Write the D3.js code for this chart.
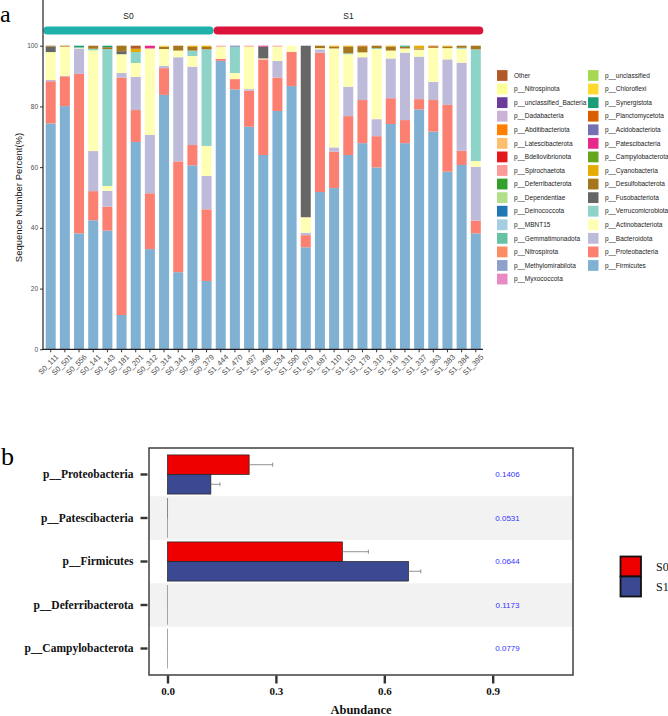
<!DOCTYPE html>
<html>
<head>
<meta charset="utf-8">
<script src="https://cdn.jsdelivr.net/npm/d3@7"></script>
<style>
  body { margin: 0; background: #fff; }
  svg { display: block; }
</style>
</head>
<body>
<svg id="chart" width="668" height="716"></svg>
<script>
// ---------- panel a data ----------
const samples = ["S0_111","S0_501","S0_556","S0_141","S0_143","S0_181","S0_201","S0_312","S0_314","S0_341","S0_369","S0_379",
  "S1_444","S1_470","S1_497","S1_498","S1_534","S1_590","S1_679","S1_687","S1_110","S1_153","S1_178","S1_310","S1_316",
  "S1_331","S1_337","S1_363","S1_383","S1_384","S1_395"]
const groups = ["S0", "S1"]
const groupColors = ["#20B2AA", "#DC143C"]

// legend order (top of stack first), as in the figure
const phyla = ["Other","p__Nitrospinota","p__unclassified_Bacteria","p__Dadabacteria","p__Abditibacteriota",
  "p__Latescibacterota","p__Bdellovibrionota","p__Spirochaetota","p__Deferribacterota","p__Dependentiae",
  "p__Deinococcota","p__MBNT15","p__Gemmatimonadota","p__Nitrospirota","p__Methylomirabilota","p__Myxococcota",
  "p__unclassified","p__Chloroflexi","p__Synergistota","p__Planctomycetota","p__Acidobacteriota","p__Patescibacteria",
  "p__Campylobacterota","p__Cyanobacteria","p__Desulfobacterota","p__Fusobacteriota","p__Verrucomicrobiota",
  "p__Actinobacteriota","p__Bacteroidota","p__Proteobacteria","p__Firmicutes"]
const phylumColors = ["#B15928","#FFFF99","#6A3D9A","#CAB2D6","#FF7F00","#FDBF6F","#E31A1C","#FB9A99","#33A02C","#B2DF8A",
  "#1F78B4","#A6CEE3","#66C2A5","#FC8D62","#8DA0CB","#E78AC3","#A6D854","#FFD92F","#1B9E77","#D95F02","#7570B3","#E7298A",
  "#66A61E","#E6AB02","#A6761D","#666666","#8DD3C7","#FFFFB3","#BEBADA","#FB8072","#80B1D3"]

// percent per sample (same order as samples)
const firmicutes        = [74.4,80.1,38.2,42.5,39.1,11.3,68.3,33.0,83.8,25.4,60.6,22.5,95.0,85.6,73.3,64.0,78.5,86.7,33.6,51.8,53.1,64.0,67.9,59.9,74.2,67.9,79.0,71.7,58.5,60.7,38.2]
const proteobacteria    = [13.9,9.8,52.5,9.6,7.9,78.2,10.5,18.4,8.8,36.5,6.7,23.6,0.7,3.4,11.9,31.5,11.0,11.3,4.0,45.9,12.0,12.8,14.2,10.3,8.5,7.6,3.4,10.4,22.0,4.7,4.2]
const bacteroidota      = [0.4,0.2,8.4,13.2,5.2,1.5,10.9,19.2,0.7,34.3,25.8,11.0,0,0,0.5,0,5.5,0,0.8,1.1,1.4,9.7,14.1,5.6,13.1,22.2,14.0,6.0,15.0,29.0,17.7]
const actinobacteriota  = [9.2,9.6,0.3,33.2,1.6,6.2,4.6,28.5,5.6,2.2,3.5,9.9,4.0,2.0,14.0,0.3,4.7,2.0,5.1,0.4,32.6,10.7,1.6,23.1,2.6,1.4,2.3,11.2,3.7,4.6,1.9]
const verrucomicrobiota = [0,0,0,0.5,45.1,0,3.6,0,0,0,1.8,31.8,0,8.7,0,0,0,0,0,0,0,0.3,0,0.3,0,0,0,0,0,0.3,36.8]
const fusobacteriota    = [1.8,0,0,0,0,1.0,0,0,0,0,0,0,0,0,0,3.9,0,0,56.5,0,0,0,0,0,0,0,0,0,0,0,0]
const desulfobacterota  = [0.3,0.3,0,1.0,0.6,1.8,0,0,0.8,1.6,1.2,0.8,0,0,0,0,0,0,0,0.8,0.6,2.2,1.9,0.8,1.3,0.6,0.4,0.4,0.5,0.7,1.2]
const cyanobacteria     = [0,0,0,0,0,0,1.1,0,0,0,0.4,0.4,0,0,0,0,0,0,0,0,0.3,0.3,0,0,0.3,0,0.9,0,0.3,0,0]
const patescibacteria   = [0,0,0,0,0,0,0,0.9,0,0,0,0,0,0,0,0.3,0,0,0,0,0,0,0,0,0,0,0,0,0,0,0]
const acidobacteriota   = [0,0,0,0,0,0,0,0,0,0,0,0,0,0.3,0,0,0,0,0,0,0,0,0,0,0,0,0,0,0,0,0]
const planctomycetota   = [0,0,0,0,0,0,0,0,0,0,0,0,0,0,0,0,0,0,0,0,0,0,0.3,0,0,0,0,0.3,0,0,0]
const synergistota      = [0,0,0.6,0,0.5,0,0,0,0,0,0,0,0,0,0,0,0,0,0,0,0,0,0,0,0,0.3,0,0,0,0,0]
const chloroflexi       = [0,0,0,0,0,0,0,0,0.3,0,0,0,0,0,0,0,0,0,0,0,0,0,0,0,0,0,0,0,0,0,0]
const spirochaetota     = [0,0,0,0,0,0,0,0,0,0,0,0,0.3,0,0.3,0,0.3,0,0,0,0,0,0,0,0,0,0,0,0,0,0]
const other             = [0,0,0,0,0,0,1.0,0,0,0,0,0,0,0,0,0,0,0,0,0,0,0,0,0,0,0,0,0,0,0,0]
const yTicks = [0, 20, 40, 60, 80, 100]

// ---------- panel b data ----------
const diffPhyla = ["p__Proteobacteria","p__Patescibacteria","p__Firmicutes","p__Deferribacterota","p__Campylobacterota"]
const s0Mean = [0.226, 0.0005, 0.484, 0.0003, 0.0003]
const s0Err  = [0.065, 0.0002, 0.072, 0.0001, 0.0001]
const s1Mean = [0.120, 0.0002, 0.667, 0.0001, 0.0001]
const s1Err  = [0.025, 0.0001, 0.034, 0.0001, 0.0001]
const pValues = ["0.1406","0.0531","0.0644","0.1173","0.0779"]
const abundanceTicks = [0, 0.3, 0.6, 0.9]
const diffGroupColors = ["#EE0000", "#3B4992"]

const svg = d3.select("#chart")
const sans = "Liberation Sans, Arial, sans-serif"
const serif = "Liberation Serif, Times New Roman, serif"

// ================= panel a =================
const seriesByPhylum = {
  "p__Firmicutes": firmicutes, "p__Proteobacteria": proteobacteria, "p__Bacteroidota": bacteroidota,
  "p__Actinobacteriota": actinobacteriota, "p__Verrucomicrobiota": verrucomicrobiota, "p__Fusobacteriota": fusobacteriota,
  "p__Desulfobacterota": desulfobacterota, "p__Cyanobacteria": cyanobacteria, "p__Patescibacteria": patescibacteria,
  "p__Acidobacteriota": acidobacteriota, "p__Planctomycetota": planctomycetota, "p__Synergistota": synergistota,
  "p__Chloroflexi": chloroflexi, "p__Spirochaetota": spirochaetota, "Other": other
}
const table = samples.map((s, i) => {
  const row = { sample: s }
  phyla.forEach(p => { row[p] = seriesByPhylum[p] ? seriesByPhylum[p][i] : 0 })
  return row
})

const color = d3.scaleOrdinal().domain(phyla).range(phylumColors)
const x = d3.scaleBand().domain(samples).range([43.6, 482.9]).paddingInner(0.294).paddingOuter(0.148)
const y = d3.scaleLinear().domain([0, 100]).range([349.3, 45.7])

const stacked = d3.stack().keys(phyla.slice().reverse())(table)

svg.append("g").selectAll("g")
  .data(stacked)
  .join("g")
  .attr("fill", d => color(d.key))
  .selectAll("rect")
  .data(d => d)
  .join("rect")
  .attr("x", d => x(d.data.sample))
  .attr("width", x.bandwidth())
  .attr("y", d => y(d[1]))
  .attr("height", d => Math.max(0, y(d[0]) - y(d[1])))

// group strip on top
groups.forEach((g, gi) => {
  const members = samples.filter(s => s.startsWith(g))
  const x0 = x(members[0]) - x.step() * x.paddingInner() / 2
  const x1 = x(members[members.length - 1]) + x.bandwidth() + x.step() * x.paddingInner() / 2
  const left = gi === 0 ? 43.3 : x0
  const right = gi === groups.length - 1 ? 483.3 : x1
  svg.append("rect")
    .attr("x", left).attr("y", 26.5).attr("width", right - left).attr("height", 8)
    .attr("rx", 4).attr("fill", groupColors[gi])
  svg.append("text")
    .attr("x", (left + right) / 2).attr("y", 19)
    .attr("text-anchor", "middle")
    .attr("font-family", sans).attr("font-size", 8.5).attr("fill", "#222")
    .text(g)
})

// axes
const yAxis = svg.append("g").attr("transform", "translate(43,0)")
  .call(d3.axisLeft(y).tickValues(yTicks).tickSize(3).tickPadding(2))
yAxis.select(".domain").remove()
yAxis.selectAll("line").attr("stroke", "#333")
yAxis.selectAll("text").attr("font-family", sans).attr("font-size", 6.5).attr("fill", "#4d4d4d")
svg.append("line").attr("x1", 43).attr("x2", 43).attr("y1", 0).attr("y2", 349.8)
  .attr("stroke", "#222").attr("stroke-width", 1.2)

const xAxis = svg.append("g").attr("transform", "translate(0,349.3)")
  .call(d3.axisBottom(x).tickSize(3).tickPadding(2))
xAxis.select(".domain").remove()
xAxis.selectAll("line").attr("stroke", "#333")
xAxis.selectAll("text")
  .attr("font-family", sans).attr("font-size", 7.5).attr("fill", "#4d4d4d")
  .attr("text-anchor", "end")
  .attr("transform", "translate(2,1) rotate(-45)")
  .attr("dy", "0.6em").attr("dx", "-0.1em")
svg.append("line").attr("x1", 42.4).attr("x2", 483).attr("y1", 349.3).attr("y2", 349.3)
  .attr("stroke", "#222").attr("stroke-width", 1.2)

svg.append("text")
  .attr("transform", "translate(22,197.5) rotate(-90)")
  .attr("text-anchor", "middle")
  .attr("font-family", sans).attr("font-size", 9.5).attr("fill", "#111")
  .text("Sequence Number Percent(%)")

svg.append("text").attr("x", 0).attr("y", 22)
  .attr("font-family", serif).attr("font-size", 24).text("a")

// legend a: two columns, 16 + 15
const perCol = 16
const legA = svg.append("g")
phyla.forEach((p, i) => {
  const col = Math.floor(i / perCol)
  const row = i % perCol
  const lx = 497 + col * 91
  const ly = 75.5 + row * 13.57
  legA.append("rect").attr("x", lx).attr("y", ly - 5.4).attr("width", 10.5).attr("height", 10.8).attr("fill", color(p))
  legA.append("text").attr("x", lx + 17).attr("y", ly).attr("dy", "0.35em")
    .attr("font-family", sans).attr("font-size", 6.5).attr("fill", "#1a1a1a").text(p)
})

// ================= panel b =================
const box = { left: 149, right: 573, top: 448, bottom: 675 }
const xb = d3.scaleLinear().domain([0, 0.9]).range([167.5, 492.7])
const yb = d3.scaleBand().domain(diffPhyla).range([box.top, box.bottom]).paddingInner(0).paddingOuter(0.109)
const inner = d3.scaleBand().domain(groups).range([0, yb.bandwidth() * 0.9])

svg.append("g").selectAll("rect")
  .data(diffPhyla.filter((d, i) => i % 2 === 1))
  .join("rect")
  .attr("x", box.left).attr("width", box.right - box.left)
  .attr("y", d => yb(d)).attr("height", yb.bandwidth())
  .attr("fill", "#f2f2f2")

const barData = []
diffPhyla.forEach((p, i) => {
  barData.push({ p, g: "S0", mean: s0Mean[i], err: s0Err[i], c: diffGroupColors[0] })
  barData.push({ p, g: "S1", mean: s1Mean[i], err: s1Err[i], c: diffGroupColors[1] })
})
const off = yb.bandwidth() * 0.05

const bars = svg.append("g")
bars.selectAll("rect")
  .data(barData)
  .join("rect")
  .attr("x", xb(0))
  .attr("y", d => yb(d.p) + off + inner(d.g))
  .attr("width", d => xb(d.mean) - xb(0))
  .attr("height", inner.bandwidth())
  .attr("fill", d => d.c)
  .attr("stroke", d => d.mean > 0.01 ? "#222" : "#888")
  .attr("stroke-width", 0.7)

const err = bars.selectAll("g.err")
  .data(barData.filter(d => d.mean > 0.01))
  .join("g").attr("class", "err")
  .attr("transform", d => `translate(0,${yb(d.p) + off + inner(d.g) + inner.bandwidth() / 2})`)
err.append("line")
  .attr("x1", d => xb(d.mean)).attr("x2", d => xb(d.mean + d.err))
  .attr("stroke", "#777").attr("stroke-width", 0.8)
err.append("line")
  .attr("x1", d => xb(d.mean + d.err)).attr("x2", d => xb(d.mean + d.err))
  .attr("y1", -2).attr("y2", 2)
  .attr("stroke", "#777").attr("stroke-width", 0.8)

// p-values
svg.append("g").selectAll("text")
  .data(diffPhyla)
  .join("text")
  .attr("x", 507.5)
  .attr("y", d => yb(d) + yb.bandwidth() / 2)
  .attr("dy", "0.35em")
  .attr("text-anchor", "middle")
  .attr("font-family", sans).attr("font-size", 8).attr("fill", "#3535ff")
  .text((d, i) => pValues[i])

svg.append("rect")
  .attr("x", box.left).attr("y", box.top)
  .attr("width", box.right - box.left).attr("height", box.bottom - box.top)
  .attr("fill", "none").attr("stroke", "#333").attr("stroke-width", 1.4)

// y axis b
const ybAxis = svg.append("g").attr("transform", `translate(${box.left - 1.5},0)`)
  .call(d3.axisLeft(yb).tickSize(7).tickPadding(7))
ybAxis.select(".domain").remove()
ybAxis.selectAll("line").attr("stroke", "#333").attr("stroke-width", 2.4)
ybAxis.selectAll("text").attr("font-family", serif).attr("font-weight", "bold")
  .attr("font-size", 11.5).attr("fill", "#111")

// x axis b
const xbAxis = svg.append("g").attr("transform", `translate(0,${box.bottom + 0.5})`)
  .call(d3.axisBottom(xb).tickValues(abundanceTicks).tickFormat(d3.format(".1f")).tickSize(8).tickPadding(4))
xbAxis.select(".domain").remove()
xbAxis.selectAll("line").attr("stroke", "#333").attr("stroke-width", 2.4)
xbAxis.selectAll("text").attr("font-family", serif).attr("font-weight", "bold")
  .attr("font-size", 11).attr("fill", "#111")

svg.append("text")
  .attr("x", (box.left + box.right) / 2).attr("y", 714)
  .attr("text-anchor", "middle")
  .attr("font-family", serif).attr("font-weight", "bold").attr("font-size", 12.5).attr("fill", "#111")
  .text("Abundance")

svg.append("text").attr("x", 1).attr("y", 465)
  .attr("font-family", serif).attr("font-size", 26).text("b")

// legend b
groups.forEach((g, i) => {
  svg.append("rect").attr("x", 620.5).attr("y", 556.5 + i * 20).attr("width", 20.5).attr("height", 20)
    .attr("fill", diffGroupColors[i]).attr("stroke", "#111").attr("stroke-width", 1.8)
  svg.append("text").attr("x", 656).attr("y", 566.5 + i * 20).attr("dy", "0.35em")
    .attr("font-family", serif).attr("font-size", 12).attr("fill", "#111").text(g)
})
</script>
</body>
</html>
